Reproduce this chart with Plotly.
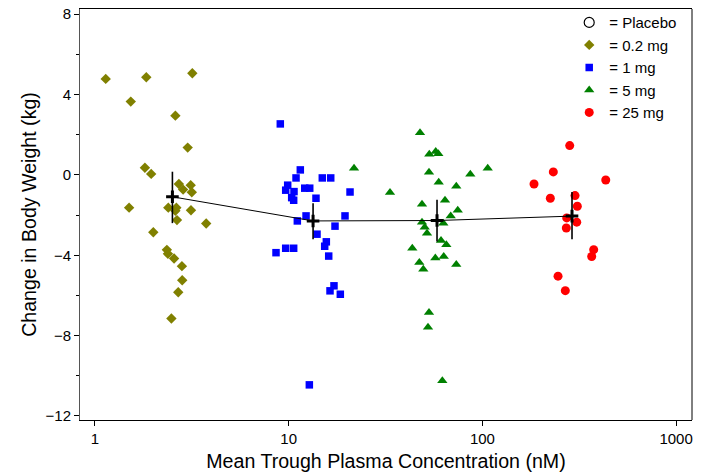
import plotly.graph_objects as go

# 0.2 mg (olive diamonds)
x_02 = [1.136, 1.84, 3.18, 1.53, 2.60, 3.01, 1.81, 1.95, 2.71, 2.85, 3.12, 3.16, 1.50, 2.39,
        2.63, 2.60, 3.13, 2.65, 3.75, 2.00, 2.35, 2.38, 2.56, 2.81, 2.82, 2.69, 2.48]
y_02 = [4.78, 4.86, 5.06, 3.65, 2.95, 1.36, 0.36, 0.05, -0.45, -0.73, -0.51, -0.86, -1.63, -1.63,
        -1.63, -1.78, -1.76, -2.25, -2.42, -2.85, -3.73, -3.93, -4.16, -4.54, -5.24, -5.84, -7.15]

# 1 mg (blue squares)
x_1 = [9.05, 11.48, 10.91, 9.88, 9.65, 10.65, 10.36, 10.61, 12.10, 12.84, 14.91, 16.48, 20.73,
       13.83, 12.29, 11.08, 19.53, 17.34, 14.00, 15.64, 15.34, 16.09, 8.60, 9.65, 10.61, 17.13,
       16.34, 18.47, 12.78]
y_1 = [2.54, 0.25, -0.15, -0.51, -0.76, -0.83, -1.13, -1.26, -0.66, -0.66, -0.15, -0.15, -0.85,
       -1.16, -2.04, -2.29, -2.04, -2.55, -2.95, -3.33, -3.55, -4.04, -3.87, -3.65, -3.65, -5.52,
       -5.77, -5.94, -10.45]

# 5 mg (green triangles)
x_5 = [21.74, 47.63, 53.19, 57.41, 59.21, 53.00, 59.49, 86.6, 106.5, 73.3, 33.34, 48.77, 64.1,
       74.6, 68.6, 48.77, 50.36, 51.76, 62.84, 61.15, 65.13, 43.46, 57.14, 63.14, 73.3, 47.24,
       49.53, 53.00, 52.38, 62.1]
y_5 = [0.33, 2.10, 1.03, 1.16, 1.06, 0.13, -0.36, 0.03, 0.33, -0.56, -0.88, -1.46, -1.26,
       -1.76, -2.05, -2.35, -2.60, -2.90, -2.40, -3.27, -3.48, -3.65, -4.14, -4.06, -4.46, -4.36,
       -4.69, -6.85, -7.58, -10.25]

# 25 mg (red circles)
x_25 = [282.3, 232.3, 184.7, 433.2, 224.2, 300.7, 309.0, 272.4, 306.8, 271.1, 375.4, 366.6,
        245.7, 267.9]
y_25 = [1.46, 0.15, -0.45, -0.25, -1.16, -1.03, -1.56, -2.14, -2.35, -2.64, -3.72, -4.06,
        -5.04, -5.76]

# Group means with error bars
mean_x = [2.51, 13.36, 58.3, 290.1]
mean_y = [-1.09, -2.29, -2.27, -2.05]
err_plus = [1.25, 0.88, 1.03, 1.20]
err_minus = [1.31, 0.91, 1.05, 1.15]

x_ticks = [1, 10, 100, 1000]
x_tick_labels = ["1", "10", "100", "1000"]

FONT = "Liberation Sans, Arial, sans-serif"

fig = go.Figure()
fig.add_trace(go.Scatter(x=[None], y=[None], mode="markers", name="= Placebo",
                         marker=dict(symbol="circle-open", size=10, color="black",
                                     line=dict(width=1.2, color="black"))))
fig.add_trace(go.Scatter(x=x_02, y=y_02, mode="markers", name="= 0.2 mg",
                         marker=dict(symbol="diamond", size=8, color="#808000")))
fig.add_trace(go.Scatter(x=x_1, y=y_1, mode="markers", name="= 1 mg",
                         marker=dict(symbol="square", size=7.5, color="#0000FF")))
fig.add_trace(go.Scatter(x=x_5, y=y_5, mode="markers", name="= 5 mg",
                         marker=dict(symbol="triangle-up", size=9, color="#008000")))
fig.add_trace(go.Scatter(x=x_25, y=y_25, mode="markers", name="= 25 mg",
                         marker=dict(symbol="circle", size=9, color="#FF0000")))
fig.add_trace(go.Scatter(x=mean_x, y=mean_y, mode="lines+markers", showlegend=False,
                         line=dict(color="black", width=1),
                         marker=dict(symbol="cross-thin", size=9, color="black",
                                     line=dict(width=3, color="black")),
                         error_y=dict(type="data", array=err_plus, arrayminus=err_minus,
                                      symmetric=False, thickness=1.6, width=0, color="black")))

fig.update_layout(
    width=702, height=474,
    margin=dict(l=80, r=10, t=9, b=54, autoexpand=False),
    paper_bgcolor="white", plot_bgcolor="white",
    font=dict(family=FONT, color="black"),
    showlegend=True,
    legend=dict(x=0.984, y=0.987, xref="paper", yref="container",
                xanchor="right", yanchor="top", bgcolor="rgba(0,0,0,0)",
                font=dict(size=15, family=FONT), itemwidth=30, tracegroupgap=0,
                borderwidth=0),
    xaxis=dict(type="log", range=[-0.0774, 3.082], tickvals=x_ticks, ticktext=x_tick_labels,
               ticks="outside", ticklen=5, tickcolor="black", showgrid=False, zeroline=False,
               showline=True, linecolor="black", linewidth=1, mirror=True,
               tickfont=dict(size=15, family=FONT), automargin=False,
               title=dict(text="Mean Trough Plasma Concentration (nM)",
                          font=dict(size=19.6, family=FONT), standoff=8)),
    yaxis=dict(range=[-12.2, 8.26], tick0=0, dtick=4, ticks="outside", ticklen=5,
               tickcolor="black", showgrid=False, zeroline=False,
               showline=True, linecolor="#555555", linewidth=1, automargin=False,
               minor=dict(dtick=2, tick0=0, ticks="outside", ticklen=3, tickcolor="black"),
               tickfont=dict(size=15, family=FONT),
               title=dict(text="Change in Body Weight (kg)",
                          font=dict(size=19.6, family=FONT), standoff=3)),
    shapes=[dict(type="line", xref="paper", yref="paper", x0=1, x1=1, y0=0, y1=1,
                 line=dict(color="black", width=1))],
)

fig.write_html(
    "out.html",
    config={"displayModeBar": False},
    post_script="document.body.style.margin='0';document.body.style.padding='0';"
                "document.body.style.overflow='hidden';",
)
